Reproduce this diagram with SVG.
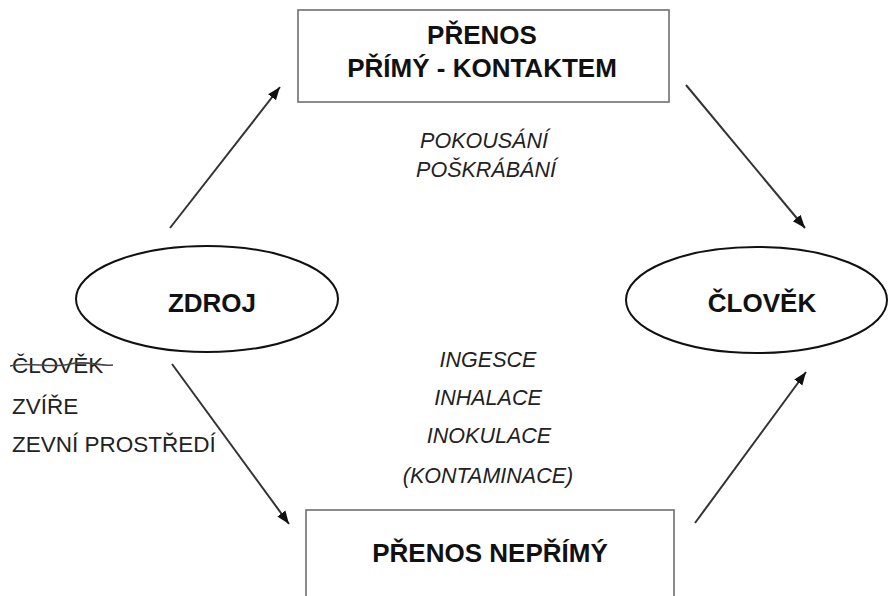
<svg xmlns="http://www.w3.org/2000/svg" width="889" height="596" viewBox="0 0 889 596">
<style>
.box{fill:#fff;stroke:#6e6e6e;stroke-width:1.6}
.ell{fill:#fff;stroke:#111;stroke-width:2}
.title{font-family:"Liberation Sans",Arial,sans-serif;font-weight:bold;font-size:26px;fill:#111;text-anchor:middle}
.it{font-family:"Liberation Sans",Arial,sans-serif;font-style:italic;font-size:21.5px;fill:#222;text-anchor:middle}
.lst{font-family:"Liberation Sans",Arial,sans-serif;font-size:22.5px;fill:#222}
.conn{stroke:#333;stroke-width:2;fill:none;marker-end:url(#ah)}
</style>
<defs>
<marker id="ah" markerUnits="userSpaceOnUse" markerWidth="14" markerHeight="12" refX="13" refY="6" orient="auto">
<path d="M0,1 L13,6 L0,11 z" fill="#111"/>
</marker>
</defs>
<rect width="889" height="596" fill="#fff"/>
<g id="connectors">
<line class="conn" x1="170" y1="228" x2="280" y2="87"/>
<line class="conn" x1="686" y1="85" x2="805" y2="228"/>
<line class="conn" x1="172" y1="364" x2="289" y2="524"/>
<line class="conn" x1="695" y1="523" x2="806" y2="372"/>
</g>
<g id="prenos-primy">
<rect class="box" x="298" y="10" width="371" height="92"/>
<text class="title" x="482" y="44">PŘENOS</text>
<text class="title" x="482" y="77">PŘÍMÝ - KONTAKTEM</text>
</g>
<g id="prenos-neprimy">
<rect class="box" x="306" y="510" width="368" height="100"/>
<text class="title" x="490" y="562">PŘENOS NEPŘÍMÝ</text>
</g>
<g id="zdroj">
<ellipse class="ell" cx="207" cy="299" rx="131" ry="53"/>
<text class="title" x="212" y="312">ZDROJ</text>
</g>
<g id="clovek">
<ellipse class="ell" cx="756.5" cy="300" rx="130.5" ry="53"/>
<text class="title" x="762" y="312">ČLOVĚK</text>
</g>
<g id="zdroj-list">
<text class="lst" x="12" y="373">ČLOVĚK</text>
<path d="M10,366 C30,361 50,369 70,364 C88,360 100,367 113,365" stroke="#444" stroke-width="1.6" fill="none"/>
<text class="lst" x="12" y="414">ZVÍŘE</text>
<text class="lst" x="12" y="452">ZEVNÍ PROSTŘEDÍ</text>
</g>
<g id="primy-labels">
<text class="it" x="484" y="148">POKOUSÁNÍ</text>
<text class="it" x="486" y="177">POŠKRÁBÁNÍ</text>
</g>
<g id="neprimy-labels">
<text class="it" x="488" y="367">INGESCE</text>
<text class="it" x="488" y="405">INHALACE</text>
<text class="it" x="489" y="443">INOKULACE</text>
<text class="it" x="488" y="483">(KONTAMINACE)</text>
</g>
</svg>
